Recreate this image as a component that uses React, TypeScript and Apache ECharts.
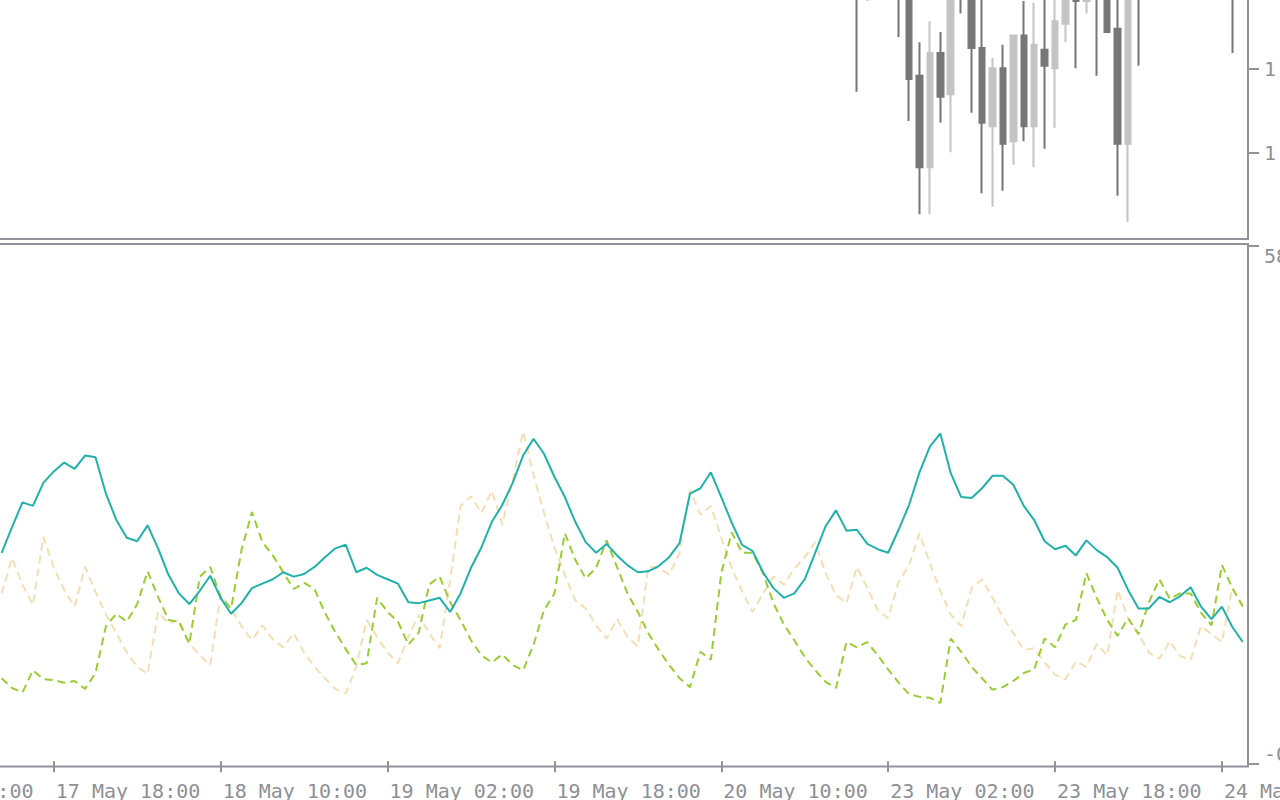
import React, { useEffect, useRef } from "react";
import * as echarts from "echarts";

// ---- categories: hourly bars (weekend gap 21–22 May has no bars)
const dayHours: [string, number, number][] = [
  ["17 May", 13, 23],
  ["18 May", 0, 23],
  ["19 May", 0, 23],
  ["20 May", 0, 23],
  ["23 May", 0, 23],
  ["24 May", 0, 12],
];
const categories: string[] = [];
for (const [d, a, b] of dayHours) {
  for (let h = a; h <= b; h++) categories.push(`${d} ${String(h).padStart(2, "0")}:00`);
}

// ---- time axis tick labels
const timeTicks = [
  "17 May 18:00",
  "18 May 10:00",
  "19 May 02:00",
  "19 May 18:00",
  "20 May 10:00",
  "23 May 02:00",
  "23 May 18:00",
  "24 May 10:00",
];
const clippedLeftLabel = "17 May 02:00";

// ---- price panel (only the lower part of the price range is visible)
const priceTicks = [1.121, 1.122];
const priceMin = 1.119976;
const priceMax = 1.12306;
// [barIndex, open, close, low, high]
const candleRows: number[][] = [
  [82, 1.123, 1.1229, 1.12173, 1.1231],
  [83, 1.12286, 1.12298, 1.12281, 1.12305],
  [86, 1.123, 1.1229, 1.12238, 1.12306],
  [87, 1.123, 1.12188, 1.12138, 1.1231],
  [88, 1.12192, 1.12083, 1.12027, 1.12232],
  [89, 1.12083, 1.12219, 1.12027, 1.12257],
  [90, 1.12219, 1.12167, 1.12136, 1.12244],
  [91, 1.1217, 1.12292, 1.12101, 1.12306],
  [92, 1.123, 1.1229, 1.12266, 1.1231],
  [93, 1.12294, 1.12225, 1.12148, 1.12306],
  [94, 1.12225, 1.12136, 1.12052, 1.12288],
  [95, 1.12132, 1.12201, 1.12036, 1.12213],
  [96, 1.12201, 1.12111, 1.12055, 1.12229],
  [97, 1.12114, 1.1224, 1.12086, 1.1224],
  [98, 1.1224, 1.12132, 1.12114, 1.12281],
  [99, 1.12132, 1.12229, 1.12083, 1.12279],
  [100, 1.12223, 1.12204, 1.12105, 1.12288],
  [101, 1.12201, 1.12257, 1.1213, 1.12294],
  [102, 1.12254, 1.12292, 1.12232, 1.123],
  [103, 1.1229, 1.12281, 1.12201, 1.123],
  [104, 1.12281, 1.1229, 1.12266, 1.12298],
  [105, 1.123, 1.1229, 1.12192, 1.1231],
  [106, 1.12294, 1.12244, 1.12244, 1.123],
  [107, 1.12248, 1.12111, 1.12049, 1.12288],
  [108, 1.12111, 1.1229, 1.12018, 1.123],
  [109, 1.123, 1.1229, 1.12204, 1.1231],
  [118, 1.123, 1.1229, 1.12219, 1.1231],
];

// ---- ADX indicator panel
const diTicksTop = [58.3];
const diTicksBottom = [-0.3];
const diMin = -0.58;
const diMax = 58.53;

const adx = [
  23.6, 26.5, 29.3, 28.9, 31.5, 32.8, 33.8, 33.1, 34.6, 34.4,
  30.3, 27.3, 25.3, 24.9, 26.7, 24.1, 21.1, 19.0, 17.8, 19.3,
  21.0, 18.5, 16.7, 17.9, 19.6, 20.1, 20.6, 21.4, 20.9, 21.2,
  22.0, 23.1, 24.1, 24.5, 21.4, 21.9, 21.1, 20.6, 20.1, 18.0,
  17.9, 18.2, 18.5, 16.9, 19.0, 21.9, 24.2, 27.1, 29.0, 31.5,
  34.6, 36.5, 34.8, 32.2, 29.9, 27.1, 24.8, 23.6, 24.6, 23.3,
  22.2, 21.4, 21.5, 22.1, 23.1, 24.7, 30.3, 30.9, 32.7, 29.9,
  27.0, 24.5, 23.8, 21.4, 19.6, 18.5, 19.0, 20.6, 23.6, 26.6,
  28.4, 26.1, 26.2, 24.6, 24.0, 23.6, 26.2, 29.0, 32.7, 35.6,
  37.1, 32.6, 29.9, 29.8, 30.9, 32.3, 32.3, 31.3, 28.9, 27.3,
  24.9, 24.0, 24.4, 23.3, 25.0, 23.9, 23.1, 21.9, 19.4, 17.3,
  17.3, 18.6, 18.0, 18.7, 19.7, 17.5, 16.1, 17.5, 15.2, 13.5,
];

const plusDI = [
  9.4, 8.3, 7.8, 10.3, 9.3, 9.2, 8.9, 9.1, 8.2, 10.0,
  15.3, 16.7, 15.8, 17.8, 21.5, 18.6, 16.0, 15.8, 13.3, 20.9,
  22.0, 18.6, 17.3, 23.9, 28.2, 24.8, 23.3, 21.4, 19.5, 20.2,
  19.5, 16.8, 14.6, 12.7, 10.9, 11.1, 18.5, 16.9, 15.8, 13.2,
  14.6, 20.0, 20.9, 18.0, 16.0, 13.7, 12.0, 11.2, 12.1, 10.9,
  10.3, 13.2, 17.1, 19.0, 25.8, 22.8, 20.7, 21.9, 25.0, 22.0,
  19.0, 16.9, 14.5, 12.6, 10.9, 9.4, 8.4, 12.4, 11.5, 21.3,
  25.9, 23.6, 23.6, 21.3, 17.9, 15.5, 13.7, 11.8, 10.3, 9.0,
  8.3, 13.5, 12.9, 13.5, 12.0, 10.4, 8.9, 7.6, 7.3, 7.2,
  6.6, 13.9, 12.4, 10.7, 9.4, 8.1, 8.4, 9.1, 10.0, 10.4,
  13.9, 12.9, 15.5, 16.0, 21.3, 18.5, 16.0, 14.2, 16.2, 14.4,
  18.0, 20.6, 18.4, 19.0, 19.0, 16.8, 15.4, 22.2, 19.6, 17.5,
];

const minusDI = [
  19.0, 23.0, 20.0, 17.7, 25.4, 21.9, 19.4, 17.5, 22.0, 19.2,
  16.6, 14.5, 12.3, 10.7, 9.9, 16.9, 15.6, 16.0, 13.3, 12.0,
  10.9, 18.9, 17.3, 15.3, 13.7, 15.4, 13.8, 12.9, 14.5, 12.3,
  10.7, 9.4, 8.2, 7.7, 10.7, 16.0, 14.1, 12.3, 11.1, 14.1,
  16.6, 14.5, 12.8, 20.5, 28.9, 30.0, 28.1, 30.6, 26.8, 31.8,
  37.3, 32.4, 28.1, 24.2, 21.1, 18.2, 17.3, 15.4, 13.9, 16.1,
  14.1, 13.0, 22.0, 21.9, 21.1, 23.6, 30.7, 27.9, 28.9, 25.3,
  21.9, 19.2, 16.9, 19.0, 20.9, 20.0, 21.8, 23.1, 24.8, 21.3,
  18.8, 17.9, 22.0, 19.6, 17.1, 16.2, 20.3, 22.2, 25.8, 22.4,
  19.3, 16.6, 15.3, 19.6, 20.6, 18.5, 16.3, 14.5, 12.6, 12.8,
  11.2, 9.8, 9.3, 11.3, 10.7, 13.3, 12.0, 19.4, 16.2, 14.4,
  12.3, 11.6, 13.6, 11.9, 11.5, 15.3, 14.4, 13.5, 19.6, 17.7,
];

const FRAME = "#909399";
const TEXT = "#8d9096";
const FONT = "'DejaVu Sans Mono', monospace";
const BULL = "#c4c4c4";
const BEAR = "#777777";

export default function App() {
  const ref = useRef<HTMLDivElement>(null);

  useEffect(() => {
    if (!ref.current) return;
    const chart = echarts.init(ref.current, undefined, { renderer: "svg" });

    const candleData: any[] = categories.map(() => ["-", "-", "-", "-"]);
    for (const [i, o, c, l, h] of candleRows) candleData[i] = [o, c, l, h];

    const isTick = (_i: number, v: string) => timeTicks.includes(v);

    const baseYAxis = {
      type: "value" as const,
      position: "right" as const,
      axisLine: { show: false },
      splitLine: { show: false },
    };
    const tickStyle = { length: 11, lineStyle: { color: FRAME, width: 2 } };
    const labelStyle = { fontFamily: FONT, fontSize: 20, color: TEXT, margin: 16 };

    chart.setOption({
      animation: false,
      backgroundColor: "#ffffff",
      grid: [
        {
          left: -3.6, right: 32, top: -20, height: 259,
          show: true, borderColor: FRAME, borderWidth: 2,
          containLabel: false, outerBoundsMode: "none",
        },
        {
          left: -3.6, right: 32, top: 244, height: 522.5,
          show: true, borderColor: FRAME, borderWidth: 2,
          containLabel: false, outerBoundsMode: "none",
        },
      ],
      xAxis: [
        {
          type: "category",
          gridIndex: 0,
          data: categories,
          boundaryGap: true,
          axisLine: { show: false },
          axisTick: { show: false },
          axisLabel: { show: false },
          splitLine: { show: false },
        },
        {
          type: "category",
          gridIndex: 1,
          data: categories,
          boundaryGap: true,
          axisLine: { show: false },
          splitLine: { show: false },
          axisTick: { show: true, alignWithLabel: true, interval: isTick, ...tickStyle },
          axisLabel: {
            interval: isTick,
            align: "left",
            margin: 14,
            fontFamily: FONT,
            fontSize: 20,
            color: TEXT,
            padding: [0, 0, 0, 2],
            hideOverlap: false,
          },
        },
      ],
      yAxis: [
        {
          ...baseYAxis,
          gridIndex: 0,
          min: priceMin,
          max: priceMax,
          axisTick: { show: true, customValues: priceTicks, ...tickStyle },
          axisLabel: { ...labelStyle, customValues: priceTicks, formatter: (v: number) => v.toFixed(5) },
        },
        {
          ...baseYAxis,
          gridIndex: 1,
          min: diMin,
          max: diMax,
          axisTick: { show: true, customValues: diTicksTop, ...tickStyle },
          axisLabel: {
            ...labelStyle,
            customValues: diTicksTop,
            verticalAlign: "top",
            formatter: (v: number) => v.toFixed(2),
          },
        },
        {
          ...baseYAxis,
          gridIndex: 1,
          min: diMin,
          max: diMax,
          axisTick: { show: true, customValues: diTicksBottom, ...tickStyle },
          axisLabel: {
            ...labelStyle,
            customValues: diTicksBottom,
            verticalAlign: "bottom",
            formatter: (v: number) => v.toFixed(2),
          },
        },
      ],
      graphic: [
        {
          type: "text",
          x: -111,
          y: 780.5,
          style: {
            text: clippedLeftLabel,
            fontFamily: FONT,
            fontSize: 20,
            fill: TEXT,
            verticalAlign: "top",
            align: "left",
          },
        },
      ],
      series: [
        {
          type: "candlestick",
          xAxisIndex: 0,
          yAxisIndex: 0,
          data: candleData,
          barWidth: 6,
          clip: true,
          itemStyle: {
            color: BULL,
            color0: BEAR,
            borderColor: BULL,
            borderColor0: BEAR,
            borderWidth: 2,
          },
        },
        {
          type: "line",
          name: "-DI",
          xAxisIndex: 1,
          yAxisIndex: 1,
          data: minusDI,
          symbol: "none",
          lineStyle: { color: "#F5DEB3", width: 2, type: [8, 5] },
        },
        {
          type: "line",
          name: "+DI",
          xAxisIndex: 1,
          yAxisIndex: 1,
          data: plusDI,
          symbol: "none",
          lineStyle: { color: "#9ACD32", width: 2, type: [8, 5] },
        },
        {
          type: "line",
          name: "ADX",
          xAxisIndex: 1,
          yAxisIndex: 1,
          data: adx,
          symbol: "none",
          lineStyle: { color: "#20B2AA", width: 2 },
        },
      ],
    });

    return () => chart.dispose();
  }, []);

  return (
    <div
      ref={ref}
      style={{ position: "fixed", left: 0, top: 0, width: 1280, height: 800, background: "#fff" }}
    />
  );
}
